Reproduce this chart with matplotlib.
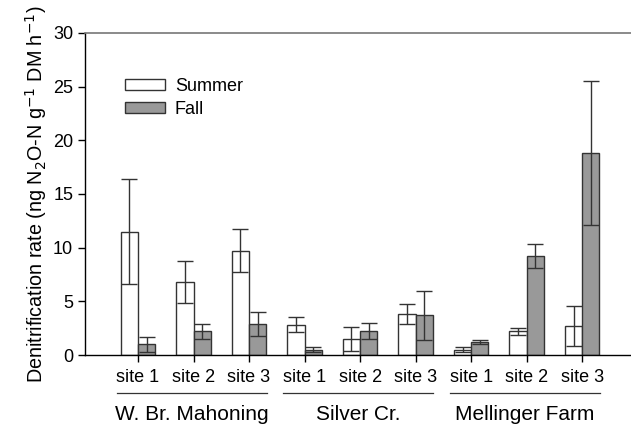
import numpy as np
import matplotlib
matplotlib.use("Agg")
import matplotlib.pyplot as plt

plt.rcParams['font.family'] = ['Liberation Sans', 'DejaVu Sans']

sites = ["site 1", "site 2", "site 3"] * 3
groups = ["W. Br. Mahoning", "Silver Cr.", "Mellinger Farm"]
summer = [11.5, 6.8, 9.7, 2.8, 1.5, 3.8, 0.5, 2.2, 2.7]
summer_err = [4.9, 2.0, 2.0, 0.7, 1.1, 0.95, 0.25, 0.35, 1.9]
fall = [1.0, 2.2, 2.9, 0.5, 2.2, 3.7, 1.2, 9.2, 18.85]
fall_err = [0.7, 0.7, 1.15, 0.25, 0.75, 2.3, 0.17, 1.1, 6.7]

fig = plt.figure(figsize=(6.31, 4.25), dpi=100)
ax = fig.add_axes([0.1347, 0.1647, 0.8653, 0.7577])

x = np.arange(len(sites))
w = 0.31
ekw = dict(ecolor="#333333", elinewidth=1.0, capsize=5.5, capthick=1.0)
ax.bar(x - w / 2, summer, w, yerr=summer_err, color="white", edgecolor="#333333",
       linewidth=1.0, label="Summer", error_kw=ekw)
ax.bar(x + w / 2, fall, w, yerr=fall_err, color="#999999", edgecolor="#333333",
       linewidth=1.0, label="Fall", error_kw=ekw)

ax.set_xlim(-0.955, 8.88)
ax.set_ylim(0, 30)
ax.set_yticks([0, 5, 10, 15, 20, 25, 30])
ax.set_xticks(x)
ax.set_xticklabels(sites)
ax.tick_params(axis="both", labelsize=13, direction="out", length=5, width=1)
ax.tick_params(axis="x", pad=5)

ax.spines["right"].set_visible(False)
ax.spines["top"].set_color("#777777")
ax.spines["top"].set_linewidth(1.2)
ax.spines["left"].set_linewidth(1)
ax.spines["bottom"].set_linewidth(1)

ax.set_ylabel("Denitrification rate (ng N$_2$O-N g$^{-1}$ DM h$^{-1}$)", fontsize=14.2, labelpad=3)

# group labels under the site labels
for i, g in enumerate(groups):
    lo, hi = 3 * i - 0.38, 3 * i + 2.32
    ax.plot([lo, hi], [-3.5, -3.5], color="#333333", lw=0.9, clip_on=False)
    ax.text((lo + hi) / 2, -5.55, g, ha="center", va="center", fontsize=15,
            clip_on=False)

leg = ax.legend(loc="upper left", bbox_to_anchor=(0.044, 0.91), frameon=False,
                fontsize=13, handlelength=2.2, handleheight=0.55, labelspacing=0.3,
                handletextpad=0.55)

fig.savefig("out.png", dpi=100)
